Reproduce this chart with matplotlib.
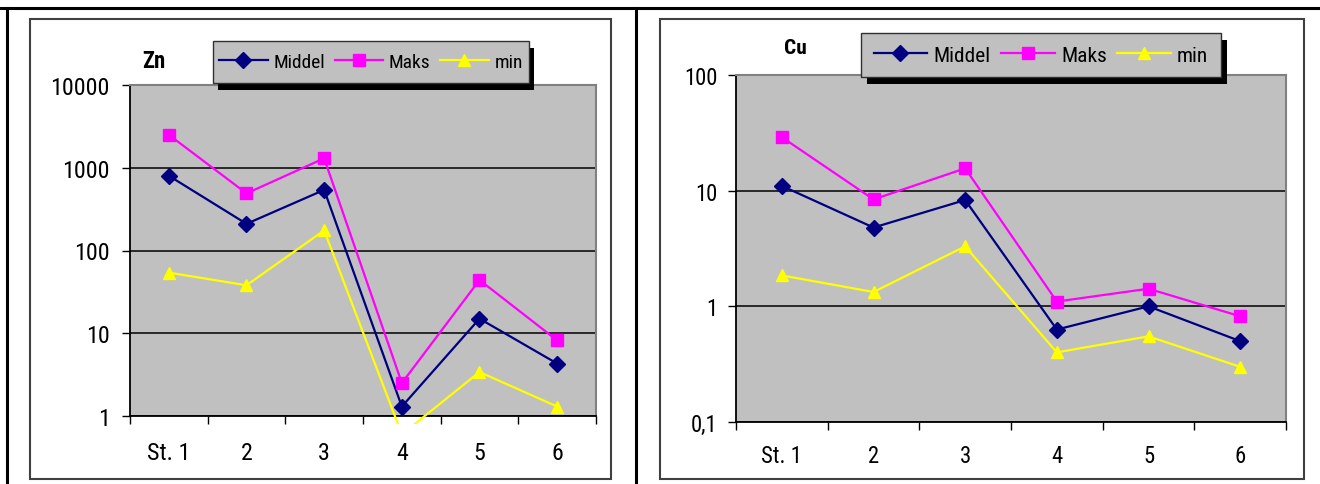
import matplotlib
matplotlib.use("Agg")
import matplotlib.pyplot as plt
from matplotlib import font_manager
from matplotlib.patches import Rectangle
from matplotlib.lines import Line2D
from matplotlib.transforms import Bbox, TransformedBbox
from matplotlib.ticker import FixedLocator, FixedFormatter, NullFormatter, NullLocator

# ---------------- data ----------------
categories = ['St. 1', '2', '3', '4', '5', '6']
series_names = ['Middel', 'Maks', 'min']

zn_middel = [800, 210, 540, 1.3, 15, 4.3]
zn_maks = [2500, 490, 1300, 2.5, 44, 8.2]
zn_min = [54, 38, 175, 0.6, 3.4, 1.3]
zn_yticks = [1, 10, 100, 1000, 10000]
zn_yticklabels = ['1', '10', '100', '1000', '10000']

cu_middel = [11, 4.8, 8.3, 0.63, 1.0, 0.5]
cu_maks = [29, 8.4, 15.6, 1.1, 1.42, 0.82]
cu_min = [1.85, 1.33, 3.3, 0.4, 0.55, 0.3]
cu_yticks = [0.1, 1, 10, 100]
cu_yticklabels = ['0,1', '1', '10', '100']

# ---------------- fonts ----------------
FAM, SC = 'Liberation Sans', 0.82
for cand, sc in [('Liberation Sans Narrow', 1.0), ('Arial Narrow', 1.0),
                 ('Roboto Condensed', 0.96), ('Archivo Narrow', 1.0)]:
    try:
        p = font_manager.findfont(cand, fallback_to_default=False)
        if p:
            FAM, SC = cand, sc
            break
    except Exception:
        pass
plt.rcParams['font.family'] = [FAM, 'DejaVu Sans']

W, H = 1320, 485
fig = plt.figure(figsize=(W / 100, H / 100), dpi=100)

def fx(x):
    return x / W

def fy(y):
    return 1 - y / H

# outer frame lines
fig.add_artist(Line2D([fx(0), fx(W)], [fy(9), fy(9)], color='black', lw=2.2))
fig.add_artist(Line2D([fx(7), fx(7)], [fy(9), fy(H)], color='black', lw=2.2))
fig.add_artist(Line2D([fx(636), fx(636)], [fy(9), fy(H)], color='black', lw=2.2))

# chart area boxes
for (x0, y0, x1, y1) in [(30, 20, 611, 480), (660, 20, 1304, 480)]:
    fig.add_artist(Rectangle((fx(x0), fy(y1)), fx(x1 - x0), (y1 - y0) / H,
                             facecolor='white', edgecolor='#404040', lw=1.5,
                             transform=fig.transFigure, zorder=0))

colors = ['#000080', '#FF00FF', '#FFFF00']
markers = ['D', 's', '^']
msizes = [8, 8, 9]


def draw_chart(box, ys, yticks, yticklabels, ylim, title, title_xy, title_fs,
               leg_box, leg_shadow, tick_fs, xlab_fs, leg_fs, ypad, xpad):
    x0, y0, x1, y1 = box
    ax = fig.add_axes([fx(x0), fy(y1), fx(x1 - x0), (y1 - y0) / H])
    ax.set_facecolor('#C0C0C0')
    ax.set_yscale('log')
    ax.set_ylim(*ylim)
    ax.set_xlim(-0.5, len(categories) - 0.5)
    xpos = list(range(len(categories)))
    clip = TransformedBbox(Bbox.from_extents(0, -0.025, 1, 1), ax.transAxes)
    for vals, c, m, ms, name in zip(ys, colors, markers, msizes, series_names):
        ln, = ax.plot(xpos, vals, color=c, marker=m, markersize=ms, lw=1.6,
                      markeredgecolor=c, label=name, zorder=3)
        ln.set_clip_box(clip)
    # y axis
    ax.yaxis.set_major_locator(FixedLocator(yticks))
    ax.yaxis.set_major_formatter(FixedFormatter(yticklabels))
    ax.yaxis.set_minor_locator(NullLocator())
    ax.yaxis.set_minor_formatter(NullFormatter())
    ax.tick_params(axis='y', which='major', direction='out', length=5.5, width=1,
                   pad=ypad, labelsize=tick_fs)
    # x axis: boundary ticks, centered labels
    ax.xaxis.set_major_locator(FixedLocator([i - 0.5 for i in range(len(categories) + 1)]))
    ax.xaxis.set_major_formatter(NullFormatter())
    ax.xaxis.set_minor_locator(FixedLocator(xpos))
    ax.xaxis.set_minor_formatter(FixedFormatter(categories))
    ax.tick_params(axis='x', which='major', direction='out', length=6, width=1)
    ax.tick_params(axis='x', which='minor', length=0, pad=xpad, labelsize=xlab_fs)
    ax.grid(True, axis='y', which='major', color='black', lw=1.1, zorder=1)
    ax.set_axisbelow(True)
    for s in ['left', 'bottom']:
        ax.spines[s].set_color('black')
        ax.spines[s].set_linewidth(1.3)
    for s in ['top', 'right']:
        ax.spines[s].set_color('#808080')
        ax.spines[s].set_linewidth(1.5)
    # title
    fig.text(fx(title_xy[0]), fy(title_xy[1]), title, ha='center', va='center',
             fontsize=title_fs * SC, fontweight='bold')
    # legend box + shadow
    lx0, ly0, lx1, ly1 = leg_box
    dx, dy = leg_shadow
    fig.add_artist(Rectangle((fx(lx0 + dx), fy(ly1 + dy)), fx(lx1 - lx0), (ly1 - ly0) / H,
                             facecolor='black', edgecolor='none',
                             transform=fig.transFigure, zorder=4))
    fig.add_artist(Rectangle((fx(lx0), fy(ly1)), fx(lx1 - lx0), (ly1 - ly0) / H,
                             facecolor='#C0C0C0', edgecolor='#303030', lw=1,
                             transform=fig.transFigure, zorder=5))
    leg = fig.legend(handles=ax.get_lines(), labels=series_names, ncol=3,
                     loc='center', bbox_to_anchor=(fx((lx0 + lx1) / 2), fy((ly0 + ly1) / 2)),
                     frameon=False, fontsize=leg_fs, handlelength=2.5,
                     handletextpad=0.3, columnspacing=0.5, borderpad=0.2)
    leg.set_zorder(6)
    return ax


draw_chart((130, 86, 596, 417), [zn_middel, zn_maks, zn_min], zn_yticks, zn_yticklabels,
           (1, 10000), 'Zn', (154, 61), 17, (213, 42, 529, 84), (5, 7),
           tick_fs=18 * SC, xlab_fs=18 * SC, leg_fs=14.5 * SC, ypad=9, xpad=18)

draw_chart((736, 76, 1286, 423), [cu_middel, cu_maks, cu_min], cu_yticks, cu_yticklabels,
           (0.1, 100), 'Cu', (795, 48), 16, (861, 34, 1221, 78), (6, 7),
           tick_fs=17 * SC, xlab_fs=17 * SC, leg_fs=16 * SC, ypad=8, xpad=16)

fig.savefig('out.png', dpi=100)
